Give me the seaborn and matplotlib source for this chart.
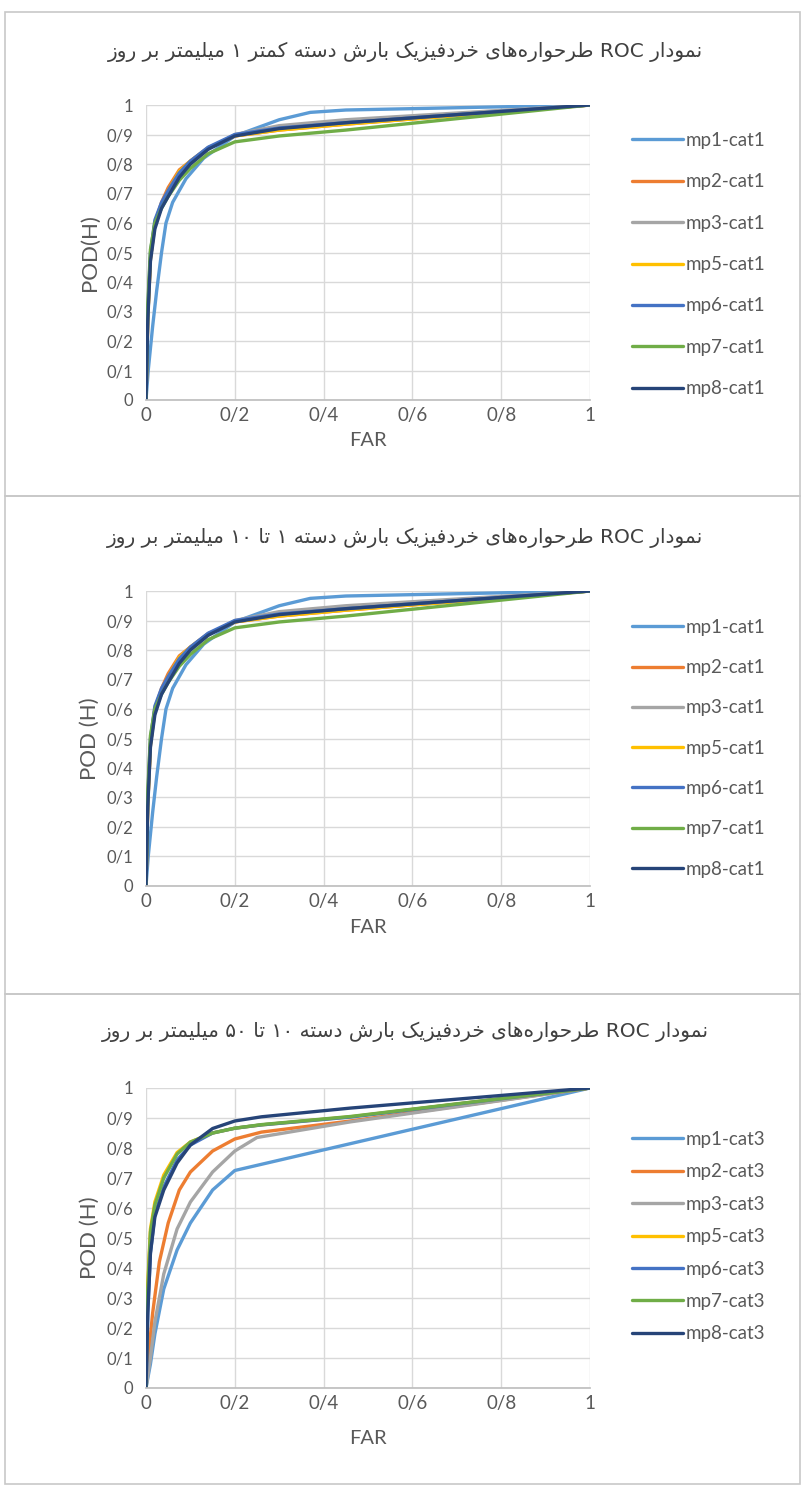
#!/usr/bin/env python
"""ROC curves of microphysics schemes for three precipitation categories."""

import matplotlib

matplotlib.use("Agg")
import matplotlib.pyplot as plt
import pandas as pd
import seaborn as sns
from matplotlib.patches import Rectangle


SERIES = ["mp1", "mp2", "mp3", "mp5", "mp6", "mp7", "mp8"]
COLORS = ["#5B9BD5", "#ED7D31", "#A5A5A5", "#FFC000", "#4472C4", "#70AD47", "#264478"]

TITLES = [
    "نمودار ROC طرحواره‌های خردفیزیک بارش دسته کمتر ۱ میلیمتر بر روز",
    "نمودار ROC طرحواره‌های خردفیزیک بارش دسته ۱ تا ۱۰ میلیمتر بر روز",
    "نمودار ROC طرحواره‌های خردفیزیک بارش دسته ۱۰ تا ۵۰ میلیمتر بر روز",
]
CATS = ["cat1", "cat1", "cat3"]
YLABELS = ["POD(H)", "POD (H)", "POD (H)"]

# category 1 (< 1 mm/day)
CAT1_FAR = {
    "mp1": [0, 0.005, 0.015, 0.024, 0.035, 0.045, 0.06, 0.09, 0.13, 0.2, 0.3, 0.37, 0.45, 1.0],
    "mp2": [0, 0.004, 0.01, 0.02, 0.035, 0.05, 0.075, 0.1, 0.14, 0.2, 0.3, 0.45, 1.0],
    "mp3": [0, 0.004, 0.01, 0.02, 0.035, 0.05, 0.075, 0.1, 0.14, 0.2, 0.3, 0.45, 1.0],
    "mp5": [0, 0.004, 0.01, 0.02, 0.035, 0.05, 0.075, 0.1, 0.14, 0.2, 0.3, 0.45, 1.0],
    "mp6": [0, 0.004, 0.01, 0.02, 0.035, 0.05, 0.075, 0.1, 0.14, 0.2, 0.3, 0.45, 1.0],
    "mp7": [0, 0.004, 0.01, 0.02, 0.035, 0.05, 0.075, 0.1, 0.14, 0.2, 0.3, 0.45, 1.0],
    "mp8": [0, 0.004, 0.01, 0.02, 0.035, 0.05, 0.075, 0.1, 0.14, 0.2, 0.3, 0.45, 1.0],
}
CAT1_POD = {
    "mp1": [0, 0.1, 0.25, 0.37, 0.5, 0.6, 0.67, 0.75, 0.82, 0.895, 0.95, 0.975, 0.983, 1.0],
    "mp2": [0, 0.28, 0.48, 0.6, 0.67, 0.72, 0.78, 0.81, 0.855, 0.895, 0.915, 0.935, 1.0],
    "mp3": [0, 0.28, 0.48, 0.59, 0.66, 0.7, 0.76, 0.8, 0.85, 0.9, 0.93, 0.95, 1.0],
    "mp5": [0, 0.28, 0.48, 0.6, 0.665, 0.71, 0.775, 0.81, 0.855, 0.895, 0.915, 0.935, 1.0],
    "mp6": [0, 0.3, 0.5, 0.61, 0.67, 0.71, 0.77, 0.81, 0.857, 0.9, 0.922, 0.94, 1.0],
    "mp7": [0, 0.32, 0.51, 0.6, 0.65, 0.69, 0.745, 0.785, 0.835, 0.875, 0.895, 0.915, 1.0],
    "mp8": [0, 0.27, 0.47, 0.58, 0.65, 0.69, 0.755, 0.8, 0.85, 0.895, 0.92, 0.94, 1.0],
}

# category 2 (1-10 mm/day)
CAT2_FAR = {
    "mp1": [0, 0.005, 0.015, 0.024, 0.035, 0.045, 0.06, 0.09, 0.13, 0.2, 0.3, 0.37, 0.45, 1.0],
    "mp2": [0, 0.004, 0.01, 0.02, 0.035, 0.05, 0.075, 0.1, 0.14, 0.2, 0.3, 0.45, 1.0],
    "mp3": [0, 0.004, 0.01, 0.02, 0.035, 0.05, 0.075, 0.1, 0.14, 0.2, 0.3, 0.45, 1.0],
    "mp5": [0, 0.004, 0.01, 0.02, 0.035, 0.05, 0.075, 0.1, 0.14, 0.2, 0.3, 0.45, 1.0],
    "mp6": [0, 0.004, 0.01, 0.02, 0.035, 0.05, 0.075, 0.1, 0.14, 0.2, 0.3, 0.45, 1.0],
    "mp7": [0, 0.004, 0.01, 0.02, 0.035, 0.05, 0.075, 0.1, 0.14, 0.2, 0.3, 0.45, 1.0],
    "mp8": [0, 0.004, 0.01, 0.02, 0.035, 0.05, 0.075, 0.1, 0.14, 0.2, 0.3, 0.45, 1.0],
}
CAT2_POD = {
    "mp1": [0, 0.1, 0.25, 0.37, 0.5, 0.6, 0.67, 0.75, 0.82, 0.895, 0.95, 0.975, 0.983, 1.0],
    "mp2": [0, 0.28, 0.48, 0.6, 0.67, 0.72, 0.78, 0.81, 0.855, 0.895, 0.915, 0.935, 1.0],
    "mp3": [0, 0.28, 0.48, 0.59, 0.66, 0.7, 0.76, 0.8, 0.85, 0.9, 0.93, 0.95, 1.0],
    "mp5": [0, 0.28, 0.48, 0.6, 0.665, 0.71, 0.775, 0.81, 0.855, 0.895, 0.915, 0.935, 1.0],
    "mp6": [0, 0.3, 0.5, 0.61, 0.67, 0.71, 0.77, 0.81, 0.857, 0.9, 0.922, 0.94, 1.0],
    "mp7": [0, 0.32, 0.51, 0.6, 0.65, 0.69, 0.745, 0.785, 0.835, 0.875, 0.895, 0.915, 1.0],
    "mp8": [0, 0.27, 0.47, 0.58, 0.65, 0.69, 0.755, 0.8, 0.85, 0.895, 0.92, 0.94, 1.0],
}

# category 3 (10-50 mm/day)
CAT3_FAR = {
    "mp1": [0, 0.01, 0.02, 0.04, 0.07, 0.1, 0.15, 0.2, 1.0],
    "mp2": [0, 0.005, 0.015, 0.03, 0.05, 0.075, 0.1, 0.15, 0.2, 0.26, 0.46, 1.0],
    "mp3": [0, 0.01, 0.02, 0.04, 0.07, 0.1, 0.15, 0.2, 0.25, 0.46, 1.0],
    "mp5": [0, 0.003, 0.01, 0.02, 0.04, 0.07, 0.1, 0.15, 0.2, 0.26, 0.46, 1.0],
    "mp6": [0, 0.004, 0.01, 0.02, 0.04, 0.07, 0.1, 0.15, 0.2, 0.26, 0.46, 1.0],
    "mp7": [0, 0.003, 0.01, 0.02, 0.04, 0.07, 0.1, 0.15, 0.2, 0.26, 0.46, 1.0],
    "mp8": [0, 0.004, 0.01, 0.02, 0.04, 0.07, 0.1, 0.15, 0.2, 0.26, 0.46, 1.0],
}
CAT3_POD = {
    "mp1": [0, 0.08, 0.18, 0.33, 0.46, 0.55, 0.66, 0.725, 1.0],
    "mp2": [0, 0.1, 0.25, 0.42, 0.55, 0.66, 0.72, 0.79, 0.83, 0.853, 0.89, 1.0],
    "mp3": [0, 0.1, 0.22, 0.38, 0.53, 0.62, 0.72, 0.79, 0.835, 0.887, 1.0],
    "mp5": [0, 0.32, 0.53, 0.62, 0.71, 0.785, 0.82, 0.85, 0.866, 0.877, 0.904, 1.0],
    "mp6": [0, 0.25, 0.45, 0.58, 0.67, 0.76, 0.81, 0.85, 0.866, 0.877, 0.903, 1.0],
    "mp7": [0, 0.3, 0.52, 0.61, 0.7, 0.78, 0.82, 0.85, 0.866, 0.878, 0.905, 1.0],
    "mp8": [0, 0.25, 0.45, 0.57, 0.66, 0.75, 0.81, 0.865, 0.89, 0.904, 0.933, 1.0],
}

PANELS = [(CAT1_FAR, CAT1_POD), (CAT2_FAR, CAT2_POD), (CAT3_FAR, CAT3_POD)]

# Arabic/Persian presentation forms: isolated, final, initial, medial
FORMS = {
    "ا": ("\uFE8D", "\uFE8E", None, None),
    "ب": ("\uFE8F", "\uFE90", "\uFE91", "\uFE92"),
    "ت": ("\uFE95", "\uFE96", "\uFE97", "\uFE98"),
    "ح": ("\uFEA1", "\uFEA2", "\uFEA3", "\uFEA4"),
    "خ": ("\uFEA5", "\uFEA6", "\uFEA7", "\uFEA8"),
    "د": ("\uFEA9", "\uFEAA", None, None),
    "ر": ("\uFEAD", "\uFEAE", None, None),
    "ز": ("\uFEAF", "\uFEB0", None, None),
    "س": ("\uFEB1", "\uFEB2", "\uFEB3", "\uFEB4"),
    "ش": ("\uFEB5", "\uFEB6", "\uFEB7", "\uFEB8"),
    "ط": ("\uFEC1", "\uFEC2", "\uFEC3", "\uFEC4"),
    "ف": ("\uFED1", "\uFED2", "\uFED3", "\uFED4"),
    "ل": ("\uFEDD", "\uFEDE", "\uFEDF", "\uFEE0"),
    "م": ("\uFEE1", "\uFEE2", "\uFEE3", "\uFEE4"),
    "ن": ("\uFEE5", "\uFEE6", "\uFEE7", "\uFEE8"),
    "ه": ("\uFEE9", "\uFEEA", "\uFEEB", "\uFEEC"),
    "و": ("\uFEED", "\uFEEE", None, None),
    "ی": ("\uFBFC", "\uFBFD", "\uFBFE", "\uFBFF"),
    "ک": ("\uFB8E", "\uFB8F", "\uFB90", "\uFB91"),
}


def shape_word(word: str) -> str:
    out = []
    for i, ch in enumerate(word):
        if ch not in FORMS:
            if ch != "\u200c":
                out.append(ch)
            continue
        prev = word[i - 1] if i > 0 else None
        nxt = word[i + 1] if i + 1 < len(word) else None
        iso, fin, ini, med = FORMS[ch]
        join_prev = prev in FORMS and FORMS[prev][2] is not None
        join_next = nxt in FORMS and ini is not None
        if join_prev and join_next:
            out.append(med)
        elif join_prev:
            out.append(fin)
        elif join_next:
            out.append(ini)
        else:
            out.append(iso)
    return "".join(reversed(out))


def shape_title(text: str) -> str:
    # the source chart shows the words left-to-right; the renderer here
    # lays out RTL runs itself, so feed the words in reverse order
    words = []
    for w in text.split(" "):
        if any(c in FORMS for c in w):
            words.append(shape_word(w))
        else:
            words.append(w)
    return " ".join(reversed(words))


def persian_tick(v: float) -> str:
    if abs(v) < 1e-9:
        return "0"
    if abs(v - 1) < 1e-9:
        return "1"
    return f"0/{int(round(v * 10))}"


sns.set_theme(style="white")
plt.rcParams["font.family"] = ["Lato", "DejaVu Sans"]

TEXT = "#595959"
GRID = "#D9D9D9"
W, H = 803, 1492

fig = plt.figure(figsize=(W / 100, H / 100), dpi=100)

frames = [(12, 496), (496, 994), (994, 1484)]
for top, bot in frames:
    fig.patches.append(
        Rectangle((5 / W, 1 - bot / H), (W - 8) / W, (bot - top) / H,
                  transform=fig.transFigure, fill=False, edgecolor="#C8C8C8", lw=1.2)
    )

axes_px = [(105, 400), (591, 886), (1088, 1388)]
title_y = [52, 538, 1032]
xlabel_top = [432, 919, 1430]
legend_top = [132, 619, 1131]
legend_spacing = [1.3, 1.24, 0.82]

for k, ((far, pod), (ytop, ybot)) in enumerate(zip(PANELS, axes_px)):
    ax = fig.add_axes([146 / W, 1 - ybot / H, 444 / W, (ybot - ytop) / H])
    rows = []
    for name in SERIES:
        for x, y in zip(far[name], pod[name]):
            rows.append({"FAR": x, "POD": y, "series": f"{name}-{CATS[k]}"})
    df = pd.DataFrame(rows)
    palette = {f"{n}-{CATS[k]}": c for n, c in zip(SERIES, COLORS)}
    sns.lineplot(data=df, x="FAR", y="POD", hue="series", palette=palette,
                 lw=2.4, ax=ax, estimator=None, sort=False)
    for line in ax.get_lines():
        line.set_solid_joinstyle("round")

    ax.set_xlim(0, 1)
    ax.set_ylim(0, 1)
    xt = [0, 0.2, 0.4, 0.6, 0.8, 1.0]
    yt = [i / 10 for i in range(11)]
    ax.set_xticks(xt)
    ax.set_yticks(yt)
    ax.set_xticklabels([persian_tick(v) for v in xt])
    ax.set_yticklabels([persian_tick(v) for v in yt])
    ax.tick_params(axis="x", labelsize=13.5, colors=TEXT, length=0, pad=5)
    ax.tick_params(axis="y", labelsize=12, colors=TEXT, length=0, pad=9)
    ax.grid(True, color=GRID, lw=1)
    for side in ["top", "right", "left"]:
        ax.spines[side].set_visible(False)
    ax.spines["bottom"].set_color("#BFBFBF")
    ax.set_xlabel("FAR", fontsize=14.5, color=TEXT)
    ax.set_ylabel(YLABELS[k], fontsize=16, color=TEXT)
    ax.xaxis.set_label_coords(0.5, -(xlabel_top[k] - ybot) / (ybot - ytop))
    ax.yaxis.set_label_coords(-(146 - 100) / 444, 0.5)

    handles, labels = ax.get_legend_handles_labels()
    ax.legend(handles, labels, loc="upper left",
              bbox_to_anchor=(632 / W, 1 - legend_top[k] / H),
              bbox_transform=fig.transFigure, frameon=False, fontsize=13.5,
              labelcolor=TEXT, handlelength=2.7, handletextpad=0.15,
              labelspacing=legend_spacing[k], borderpad=0, borderaxespad=0)

    fig.text(405 / W, 1 - title_y[k] / H, shape_title(TITLES[k]),
             ha="center", va="center", fontsize=14.5, color="#404040",
             family=["DejaVu Sans"])

fig.savefig("out.png", dpi=100)
